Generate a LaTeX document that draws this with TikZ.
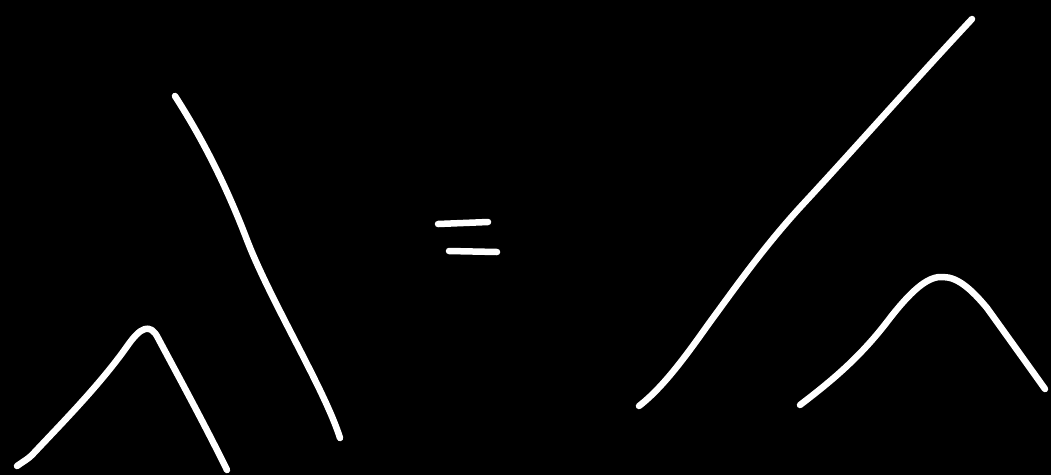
\documentclass[tikz,border=0pt]{standalone}
\begin{document}
\begin{tikzpicture}[x=1pt,y=-1pt,
  strand/.style={draw=white,line width=6.5pt,line cap=round,line join=round}]
\fill[black] (0,0) rectangle (1051,475);
\useasboundingbox (0,0) rectangle (1051,475);
% left side
\draw[strand] (17,466) .. controls (24,461) and (28,459) .. (32,455)
  .. controls (60,425) and (100,385) .. (128,345)
  .. controls (140,328) and (150,322) .. (158,338)
  .. controls (175,370) and (205,425) .. (227,470);
\draw[strand] (175,96) .. controls (200,135) and (224,180) .. (247,240)
  .. controls (270,300) and (325,390) .. (340,438);
% equals
\draw[strand] (438,224) -- (488,222);
\draw[strand] (449,251) -- (497,252);
% right side
\draw[strand] (639,406) .. controls (665,386) and (690,350) .. (710,322)
  .. controls (735,288) and (765,245) .. (805,202)
  .. controls (855,148) and (915,80) .. (972,19);
\draw[strand] (800,405) .. controls (830,382) and (860,358) .. (890,318)
  .. controls (915,286) and (930,276) .. (943,277)
  .. controls (958,277) and (972,290) .. (987,308)
  .. controls (1010,340) and (1030,368) .. (1045,389);
\end{tikzpicture}
\end{document}
